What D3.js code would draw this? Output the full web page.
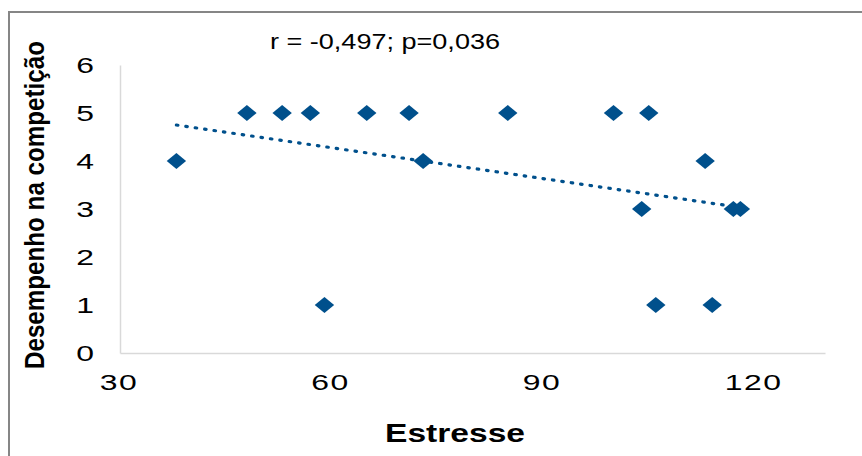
<!DOCTYPE html>
<html>
<head>
<meta charset="utf-8">
<script src="https://cdn.jsdelivr.net/npm/d3@7"></script>
<style>
    body { margin: 0; background: #fff; }
    svg { display: block; font-family: "Liberation Sans", Arial, sans-serif; }
</style>
</head>
<body>
<div id="chart"></div>
<script>
// Data
var stressValues = [38, 48, 53, 57, 59, 65, 71, 73, 85, 100, 104, 105, 106, 113, 114, 117, 118];
var performanceValues = [4, 5, 5, 5, 1, 5, 5, 4, 5, 5, 3, 5, 1, 4, 1, 3, 3];
var xTicks = [30, 60, 90, 120];
var yTicks = [0, 1, 2, 3, 4, 5, 6];
var statsLabel = "r = -0,497; p=0,036";
var xTitle = "Estresse";
var yTitle = "Desempenho na competição";

drawChart();

function drawChart() {
    var width = 862,
        height = 456,
        plotLeft = 120,
        plotRight = 825,
        plotTop = 65,
        plotBottom = 353,
        blue = "#00508c";

    var svg = d3.select("#chart")
        .append("svg")
        .attr("width", width)
        .attr("height", height);

    // outer frame (runs off the right and bottom edges)
    svg.append("rect")
        .attr("x", 9)
        .attr("y", 12)
        .attr("width", 900)
        .attr("height", 500)
        .style("fill", "#fff")
        .style("stroke", "#868686")
        .style("stroke-width", 2);

    var x = d3.scaleLinear().domain([30, 130]).range([plotLeft, plotRight]);
    var y = d3.scaleLinear().domain([0, 6]).range([plotBottom, plotTop]);

    // axes, no tick marks, light grey lines
    var xAxis = svg.append("g")
        .attr("transform", "translate(0," + plotBottom + ")")
        .call(d3.axisBottom(x).tickValues(xTicks).tickFormat(d3.format("d")).tickSize(0).tickPadding(0));

    xAxis.selectAll("text")
        .attr("y", 0)
        .attr("x", -1)
        .attr("dy", 37)
        .attr("transform", "scale(1.45,1)")
        .style("font-size", "22px")
        .style("letter-spacing", "1px")
        .style("fill", "#000");

    var yAxis = svg.append("g")
        .attr("transform", "translate(" + plotLeft + ",0)")
        .call(d3.axisLeft(y).tickValues(yTicks).tickFormat(d3.format("d")).tickSize(0).tickPadding(0));

    yAxis.selectAll("text")
        .attr("x", -18)
        .attr("dy", "0.36em")
        .attr("transform", "scale(1.45,1)")
        .style("font-size", "22px")
        .style("fill", "#000");

    svg.selectAll(".domain")
        .style("stroke", "#d9d9d9")
        .style("stroke-width", 1.5);

    // linear trend line (least squares)
    var mx = d3.mean(stressValues),
        my = d3.mean(performanceValues);
    var sxy = d3.sum(stressValues, (d, i) => (d - mx) * (performanceValues[i] - my));
    var sxx = d3.sum(stressValues, d => (d - mx) * (d - mx));
    var slope = sxy / sxx,
        intercept = my - slope * mx;
    var xExtent = d3.extent(stressValues);

    svg.append("line")
        .attr("x1", x(xExtent[0]))
        .attr("y1", y(intercept + slope * xExtent[0]))
        .attr("x2", x(xExtent[1]))
        .attr("y2", y(intercept + slope * xExtent[1]))
        .style("stroke", blue)
        .style("stroke-width", 3.2)
        .style("stroke-linecap", "round")
        .style("stroke-dasharray", "1.5 8");

    // diamond markers
    svg.selectAll(".point")
        .data(stressValues)
        .enter()
        .append("path")
        .attr("class", "point")
        .attr("d", "M0,-8L9.7,0L0,8L-9.7,0Z")
        .attr("transform", (d, i) => "translate(" + x(d) + "," + y(performanceValues[i]) + ")")
        .style("fill", blue);

    // texts
    svg.append("text")
        .attr("x", 385)
        .attr("y", 49)
        .attr("text-anchor", "middle")
        .attr("textLength", 230)
        .attr("lengthAdjust", "spacingAndGlyphs")
        .style("font-size", "22px")
        .text(statsLabel);

    svg.append("text")
        .attr("x", 455)
        .attr("y", 442)
        .attr("text-anchor", "middle")
        .attr("textLength", 140)
        .attr("lengthAdjust", "spacingAndGlyphs")
        .style("font-size", "25px")
        .style("font-weight", "bold")
        .text(xTitle);

    svg.append("text")
        .attr("transform", "translate(44,205) rotate(-90)")
        .attr("text-anchor", "middle")
        .attr("textLength", 328)
        .attr("lengthAdjust", "spacingAndGlyphs")
        .style("font-size", "27px")
        .style("font-weight", "bold")
        .text(yTitle);
}
</script>
</body>
</html>
